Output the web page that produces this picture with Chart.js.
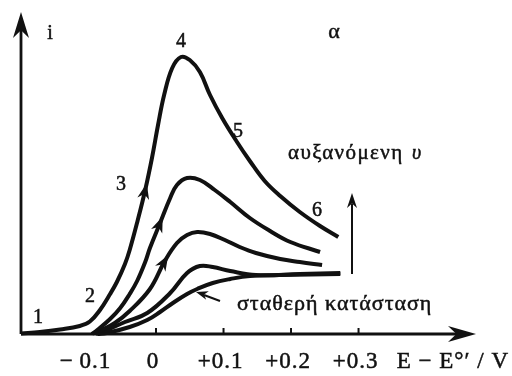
<!DOCTYPE html>
<html>
<head>
<meta charset="utf-8">
<script src="https://cdn.jsdelivr.net/npm/chart.js@4"></script>
<style>
    html, body { margin: 0; padding: 0; background: #fff; }
    canvas { display: block; }
</style>
</head>
<body>
<canvas id="chart" width="512" height="376"></canvas>
<script>
// potential E - E°' (V) and current i (arbitrary units)
const curveA_E = [-0.200, -0.172, -0.142, -0.113, -0.098, -0.083, -0.068, -0.058, -0.046, -0.039, -0.027, -0.016, -0.006, 0.003, 0.012, 0.024, 0.037, 0.050, 0.065, 0.080, 0.098, 0.119, 0.139, 0.161, 0.184, 0.213, 0.243, 0.270];
const curveA_i = [0.05, 0.2, 0.45, 0.8, 1.25, 2.4, 4.0, 5.2, 7.0, 8.4, 11.4, 14.4, 17.6, 20.9, 23.9, 26.6, 27.7, 27.4, 26.2, 23.9, 21.6, 19.3, 17.3, 15.3, 13.8, 12.2, 10.8, 9.7];

const curveB_E = [-0.095, -0.087, -0.068, -0.053, -0.039, -0.028, -0.016, -0.009, 0.006, 0.021, 0.031, 0.046, 0.065, 0.087, 0.110, 0.139, 0.169, 0.199, 0.243];
const curveB_i = [0, 0.4, 1.5, 2.6, 4.0, 5.3, 7.2, 8.6, 11.1, 13.6, 14.9, 15.6, 15.4, 14.4, 13.2, 11.6, 10.3, 9.2, 8.2];

const curveC_E = [-0.090, -0.083, -0.061, -0.039, -0.009, 0.013, 0.031, 0.046, 0.061, 0.080, 0.102, 0.124, 0.148, 0.184, 0.213, 0.246];
const curveC_i = [0, 0.3, 1.1, 2.3, 4.5, 7.3, 9.1, 9.9, 10.2, 10.0, 9.4, 8.7, 8.1, 7.5, 7.2, 6.9];

const curveD_E = [-0.087, -0.079, -0.046, -0.013, 0.021, 0.046, 0.065, 0.084, 0.110, 0.148, 0.213, 0.273];
const curveD_i = [0, 0.2, 1.2, 2.1, 4.1, 6.1, 6.8, 6.7, 6.3, 5.9, 6.0, 6.1];

const steady_E = [-0.087, -0.073, -0.039, -0.013, 0.006, 0.025, 0.046, 0.061, 0.084, 0.110, 0.139, 0.184, 0.273];
const steady_i = [0, 0.1, 0.7, 1.4, 2.2, 3.1, 4.0, 4.5, 5.1, 5.5, 5.8, 5.9, 6.0];

const tickValues = [-0.1, 0, 0.1, 0.2, 0.3];
const tickLabels = ["\u2212\u20090.1", "0", "+0.1", "+0.2", "+0.3"];
const tickMarks = [0, 0.1, 0.2, 0.3];

const xMin = -0.2;
const xMax = 0.474;
const yMax = 32.2;
const ink = "#111";
const serif = "'Liberation Serif', 'DejaVu Serif', serif";

const zip = (xs, ys) => xs.map((x, k) => ({ x, y: ys[k] }));

const series = [
    { data: zip(curveA_E, curveA_i), arrowAt: 11 },
    { data: zip(curveB_E, curveB_i), arrowAt: 8 },
    { data: zip(curveC_E, curveC_i), arrowAt: 5 },
    { data: zip(curveD_E, curveD_i) },
    { data: zip(steady_E, steady_i) }
];

const arrowHead = (ctx, tx, ty, angle, len, half) => {
    ctx.save();
    ctx.translate(tx, ty);
    ctx.rotate(angle);
    ctx.beginPath();
    ctx.moveTo(0, 0);
    ctx.lineTo(-len, -half);
    ctx.lineTo(-len * 0.7, 0);
    ctx.lineTo(-len, half);
    ctx.closePath();
    ctx.fill();
    ctx.restore();
};

// scanned print looks heavy, so the text gets a thin outline too
const drawText = (ctx, text, px, py, font, align, spacing) => {
    ctx.font = font;
    ctx.letterSpacing = spacing || "0px";
    ctx.textAlign = align || "center";
    ctx.textBaseline = "middle";
    ctx.lineWidth = 0.5;
    ctx.fillText(text, px, py);
    ctx.strokeText(text, px, py);
    ctx.letterSpacing = "0px";
};

const sketchPlugin = {
    id: "sketch",
    afterDatasetsDraw(chart) {
        const { ctx, scales: { x, y } } = chart;
        const x0 = x.getPixelForValue(xMin);
        const y0 = y.getPixelForValue(0);
        const xEnd = x.getPixelForValue(xMax);
        const yTop = y.getPixelForValue(yMax);

        ctx.save();
        ctx.strokeStyle = ink;
        ctx.fillStyle = ink;
        ctx.lineCap = "butt";

        // axes
        ctx.lineWidth = 2.8;
        ctx.beginPath();
        ctx.moveTo(x0, y0);
        ctx.lineTo(xEnd - 14, y0);
        ctx.moveTo(x0, y0);
        ctx.lineTo(x0, yTop + 14);
        ctx.stroke();
        arrowHead(ctx, xEnd, y0, 0, 28, 8);
        arrowHead(ctx, x0, yTop, -Math.PI / 2, 26, 8);

        ctx.lineWidth = 2;
        tickMarks.forEach(v => {
            const px = x.getPixelForValue(v);
            ctx.beginPath();
            ctx.moveTo(px, y0);
            ctx.lineTo(px, y0 - 6);
            ctx.stroke();
        });

        const tickFont = "23px " + serif;
        tickValues.forEach((v, k) => {
            drawText(ctx, tickLabels[k], x.getPixelForValue(v) - 3, y0 + 28, tickFont, "center", "1px");
        });
        drawText(ctx, "E \u2212 E\u00b0\u2032 / V", 509, y0 + 28, tickFont, "right", "1px");

        // direction arrows on the rising branches
        chart.data.datasets.forEach((ds, k) => {
            const at = series[k].arrowAt;
            if (at === undefined) {
                return;
            }
            const p = ds.data;
            const ax = x.getPixelForValue(p[at].x);
            const ay = y.getPixelForValue(p[at].y);
            const bx = x.getPixelForValue(p[at + 1].x);
            const by = y.getPixelForValue(p[at + 1].y);
            const cx = x.getPixelForValue(p[at - 1].x);
            const cy = y.getPixelForValue(p[at - 1].y);
            const angle = Math.atan2(by - cy, bx - cx);
            arrowHead(ctx, ax + Math.cos(angle) * 7, ay + Math.sin(angle) * 7, angle, 16, 6);
        });

        // increasing scan rate arrow
        ctx.lineWidth = 2;
        ctx.beginPath();
        ctx.moveTo(352, 274);
        ctx.lineTo(352, 204);
        ctx.stroke();
        arrowHead(ctx, 352, 193, -Math.PI / 2, 15, 5);

        // steady-state pointer
        ctx.beginPath();
        ctx.moveTo(220, 301);
        ctx.lineTo(204, 295);
        ctx.stroke();
        const pa = Math.atan2(294 - 301, 197 - 220);
        arrowHead(ctx, 196, 292, pa, 12, 4.5);

        // labels
        const numFont = "20px " + serif;
        drawText(ctx, "i", 50, 34, numFont);
        drawText(ctx, "\u03b1", 334, 32, "22px " + serif);
        drawText(ctx, "1", 38, 318, numFont);
        drawText(ctx, "2", 90, 297, numFont);
        drawText(ctx, "3", 121, 185, numFont);
        drawText(ctx, "4", 181, 42, numFont);
        drawText(ctx, "5", 238, 132, numFont);
        drawText(ctx, "6", 317, 211, numFont);

        const rise = "\u03b1\u03c5\u03be\u03b1\u03bd\u03cc\u03bc\u03b5\u03bd\u03b7";
        drawText(ctx, rise, 288, 153, "21px " + serif, "left", "1.4px");
        drawText(ctx, "\u03c5", 412, 154, "italic 20px " + serif, "left");
        drawText(ctx, "\u03c3\u03c4\u03b1\u03b8\u03b5\u03c1\u03ae \u03ba\u03b1\u03c4\u03ac\u03c3\u03c4\u03b1\u03c3\u03b7", 237, 304, "22px " + serif, "left", "1px");

        ctx.restore();
    }
};

new Chart(document.getElementById("chart"), {
    type: "line",
    data: {
        datasets: series.map(s => ({
            data: s.data,
            borderColor: ink,
            backgroundColor: ink,
            borderWidth: 4,
            pointRadius: 0,
            tension: 0.4,
            fill: false,
            clip: false
        }))
    },
    options: {
        responsive: false,
        animation: false,
        devicePixelRatio: 1,
        layout: {
            padding: { left: 21, right: 36, top: 12, bottom: 42 }
        },
        scales: {
            x: { type: "linear", min: xMin, max: xMax, display: false },
            y: { type: "linear", min: 0, max: yMax, display: false }
        },
        plugins: {
            legend: { display: false },
            tooltip: { enabled: false }
        }
    },
    plugins: [sketchPlugin]
});
</script>
</body>
</html>
